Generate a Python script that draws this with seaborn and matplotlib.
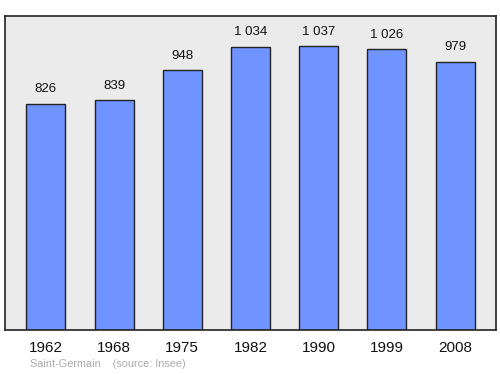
import matplotlib
matplotlib.use("Agg")
import matplotlib.pyplot as plt
import seaborn as sns
import pandas as pd

years = ["1962", "1968", "1975", "1982", "1990", "1999", "2008"]
population = [826, 839, 948, 1034, 1037, 1026, 979]
value_labels = ["826", "839", "948", "1 034", "1 037", "1 026", "979"]

df = pd.DataFrame({"year": years, "pop": population})

sns.set_theme(style="white")
plt.rcParams['font.family'] = ['Liberation Sans', 'DejaVu Sans']

fig = plt.figure(figsize=(5, 3.74), dpi=100)
ax = fig.add_axes([0.01, 1 - 330 / 374, 0.982, (330 - 16) / 374])
ax.set_facecolor("#ebebeb")

sns.barplot(data=df, x="year", y="pop", ax=ax, color="#7094ff", saturation=1,
            width=0.57, edgecolor="#222222", linewidth=1.0)

ax.set_xlim(-0.6, 6.6)
ax.set_ylim(0, 1146)
ax.set_yticks([])
ax.set_xlabel("")
ax.set_ylabel("")
ax.tick_params(axis="x", length=0, labelsize=11, pad=8, colors="#111111")
for s in ax.spines.values():
    s.set_color("#222222")
    s.set_linewidth(1.2)

for i, (v, lab) in enumerate(zip(population, value_labels)):
    ax.annotate(lab, (i, v), xytext=(0, 6), textcoords="offset points",
                ha="center", va="bottom", fontsize=9.5, color="#111111")

fig.text(30 / 500, 1 - 364 / 374, "Saint-Germain    (source: Insee)",
         fontsize=7.8, color="#aaaaaa", va="center", ha="left")

fig.savefig("out.png", dpi=100, facecolor="white")
